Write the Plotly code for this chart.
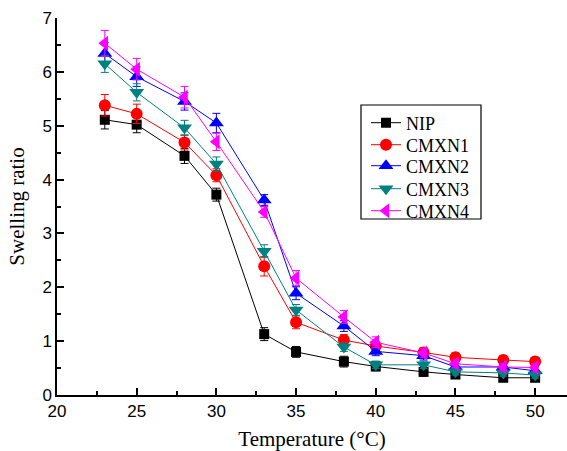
import plotly.graph_objects as go

temperature = [23, 25, 28, 30, 33, 35, 38, 40, 43, 45, 48, 50]

nip = [5.11, 5.02, 4.44, 3.72, 1.13, 0.80, 0.62, 0.53, 0.43, 0.38, 0.32, 0.32]
nip_err = [0.17, 0.15, 0.14, 0.12, 0.12, 0.10, 0.10, 0.08, 0.08, 0.07, 0.07, 0.07]

cmxn1 = [5.38, 5.22, 4.69, 4.08, 2.39, 1.35, 1.02, 0.91, 0.79, 0.70, 0.65, 0.62]
cmxn1_err = [0.20, 0.18, 0.14, 0.12, 0.18, 0.12, 0.10, 0.09, 0.09, 0.08, 0.08, 0.08]

cmxn2 = [6.34, 5.91, 5.45, 5.05, 3.62, 1.89, 1.28, 0.81, 0.73, 0.52, 0.52, 0.45]
cmxn2_err = [0.20, 0.18, 0.16, 0.18, 0.10, 0.12, 0.10, 0.08, 0.08, 0.07, 0.07, 0.07]

cmxn3 = [6.15, 5.62, 4.96, 4.29, 2.67, 1.58, 0.89, 0.56, 0.56, 0.43, 0.41, 0.37]
cmxn3_err = [0.16, 0.16, 0.14, 0.13, 0.12, 0.10, 0.08, 0.07, 0.07, 0.06, 0.06, 0.06]

cmxn4 = [6.53, 6.05, 5.53, 4.70, 3.40, 2.17, 1.45, 0.98, 0.78, 0.58, 0.52, 0.51]
cmxn4_err = [0.24, 0.20, 0.20, 0.16, 0.10, 0.14, 0.12, 0.10, 0.08, 0.07, 0.07, 0.07]

series = [
    ("NIP", nip, nip_err, "#000000", "square", 10),
    ("CMXN1", cmxn1, cmxn1_err, "#FF0000", "circle", 12),
    ("CMXN2", cmxn2, cmxn2_err, "#0000FF", "triangle-up", 13),
    ("CMXN3", cmxn3, cmxn3_err, "#008080", "triangle-down", 13),
    ("CMXN4", cmxn4, cmxn4_err, "#FF00FF", "triangle-left", 13),
]

W, H = 567, 451
ML, MR, MT, MB = 57, 0, 18, 56
PW, PH = W - ML - MR, H - MT - MB


def px_x(p):
    return (p - ML) / PW


def px_y(p):
    return (H - MB - p) / PH


serif = "Liberation Serif, Times New Roman, serif"
sans = "Liberation Sans, Arial, sans-serif"

fig = go.Figure()
legend_layouts = {}
entry_y = [123, 145, 166, 189, 211]
for i, (name, vals, errs, color, symbol, size) in enumerate(series):
    key = "legend" if i == 0 else f"legend{i + 1}"
    fig.add_trace(go.Scatter(
        x=temperature, y=vals, name=name, mode="lines+markers",
        line=dict(color=color, width=1),
        marker=dict(symbol=symbol, size=size, color=color),
        error_y=dict(type="data", array=errs, visible=True,
                     color=color, thickness=1, width=4),
        legend=key,
    ))
    legend_layouts[key] = dict(
        x=px_x(366), y=px_y(entry_y[i]), xanchor="left", yanchor="middle",
        bgcolor="rgba(0,0,0,0)", borderwidth=0,
        font=dict(family=serif, size=18, color="black"),
        itemwidth=30,
    )

# frame around the stacked legend entries
fig.add_shape(type="rect", xref="paper", yref="paper",
              x0=px_x(361), x1=px_x(481), y0=px_y(219), y1=px_y(105),
              line=dict(color="black", width=1.2), fillcolor="rgba(0,0,0,0)",
              layer="above")

axis_common = dict(
    showline=True, linecolor="black", linewidth=1.5,
    ticks="inside", ticklen=7, tickwidth=1.5, tickcolor="black",
    showgrid=False, zeroline=False, mirror=False,
    tickfont=dict(family=sans, size=17, color="black"),
)

fig.update_xaxes(
    range=[20, 52], tick0=20, dtick=5,
    minor=dict(ticks="inside", ticklen=4, dtick=2.5, tick0=20,
               tickcolor="black", tickwidth=1.5),
    title=dict(text="Temperature (°C)", standoff=14,
               font=dict(family=serif, size=21, color="black")),
    **axis_common,
)
fig.update_yaxes(
    range=[0, 7], tick0=0, dtick=1,
    minor=dict(ticks="inside", ticklen=4, dtick=0.5, tick0=0,
               tickcolor="black", tickwidth=1.5),
    title=dict(text="Swelling ratio", standoff=12,
               font=dict(family=serif, size=21, color="black")),
    **axis_common,
)

fig.update_layout(
    width=W, height=H,
    margin=dict(l=ML, r=MR, t=MT, b=MB),
    paper_bgcolor="white", plot_bgcolor="white",
    showlegend=True,
    **legend_layouts,
)

fig.write_html("out.html")
